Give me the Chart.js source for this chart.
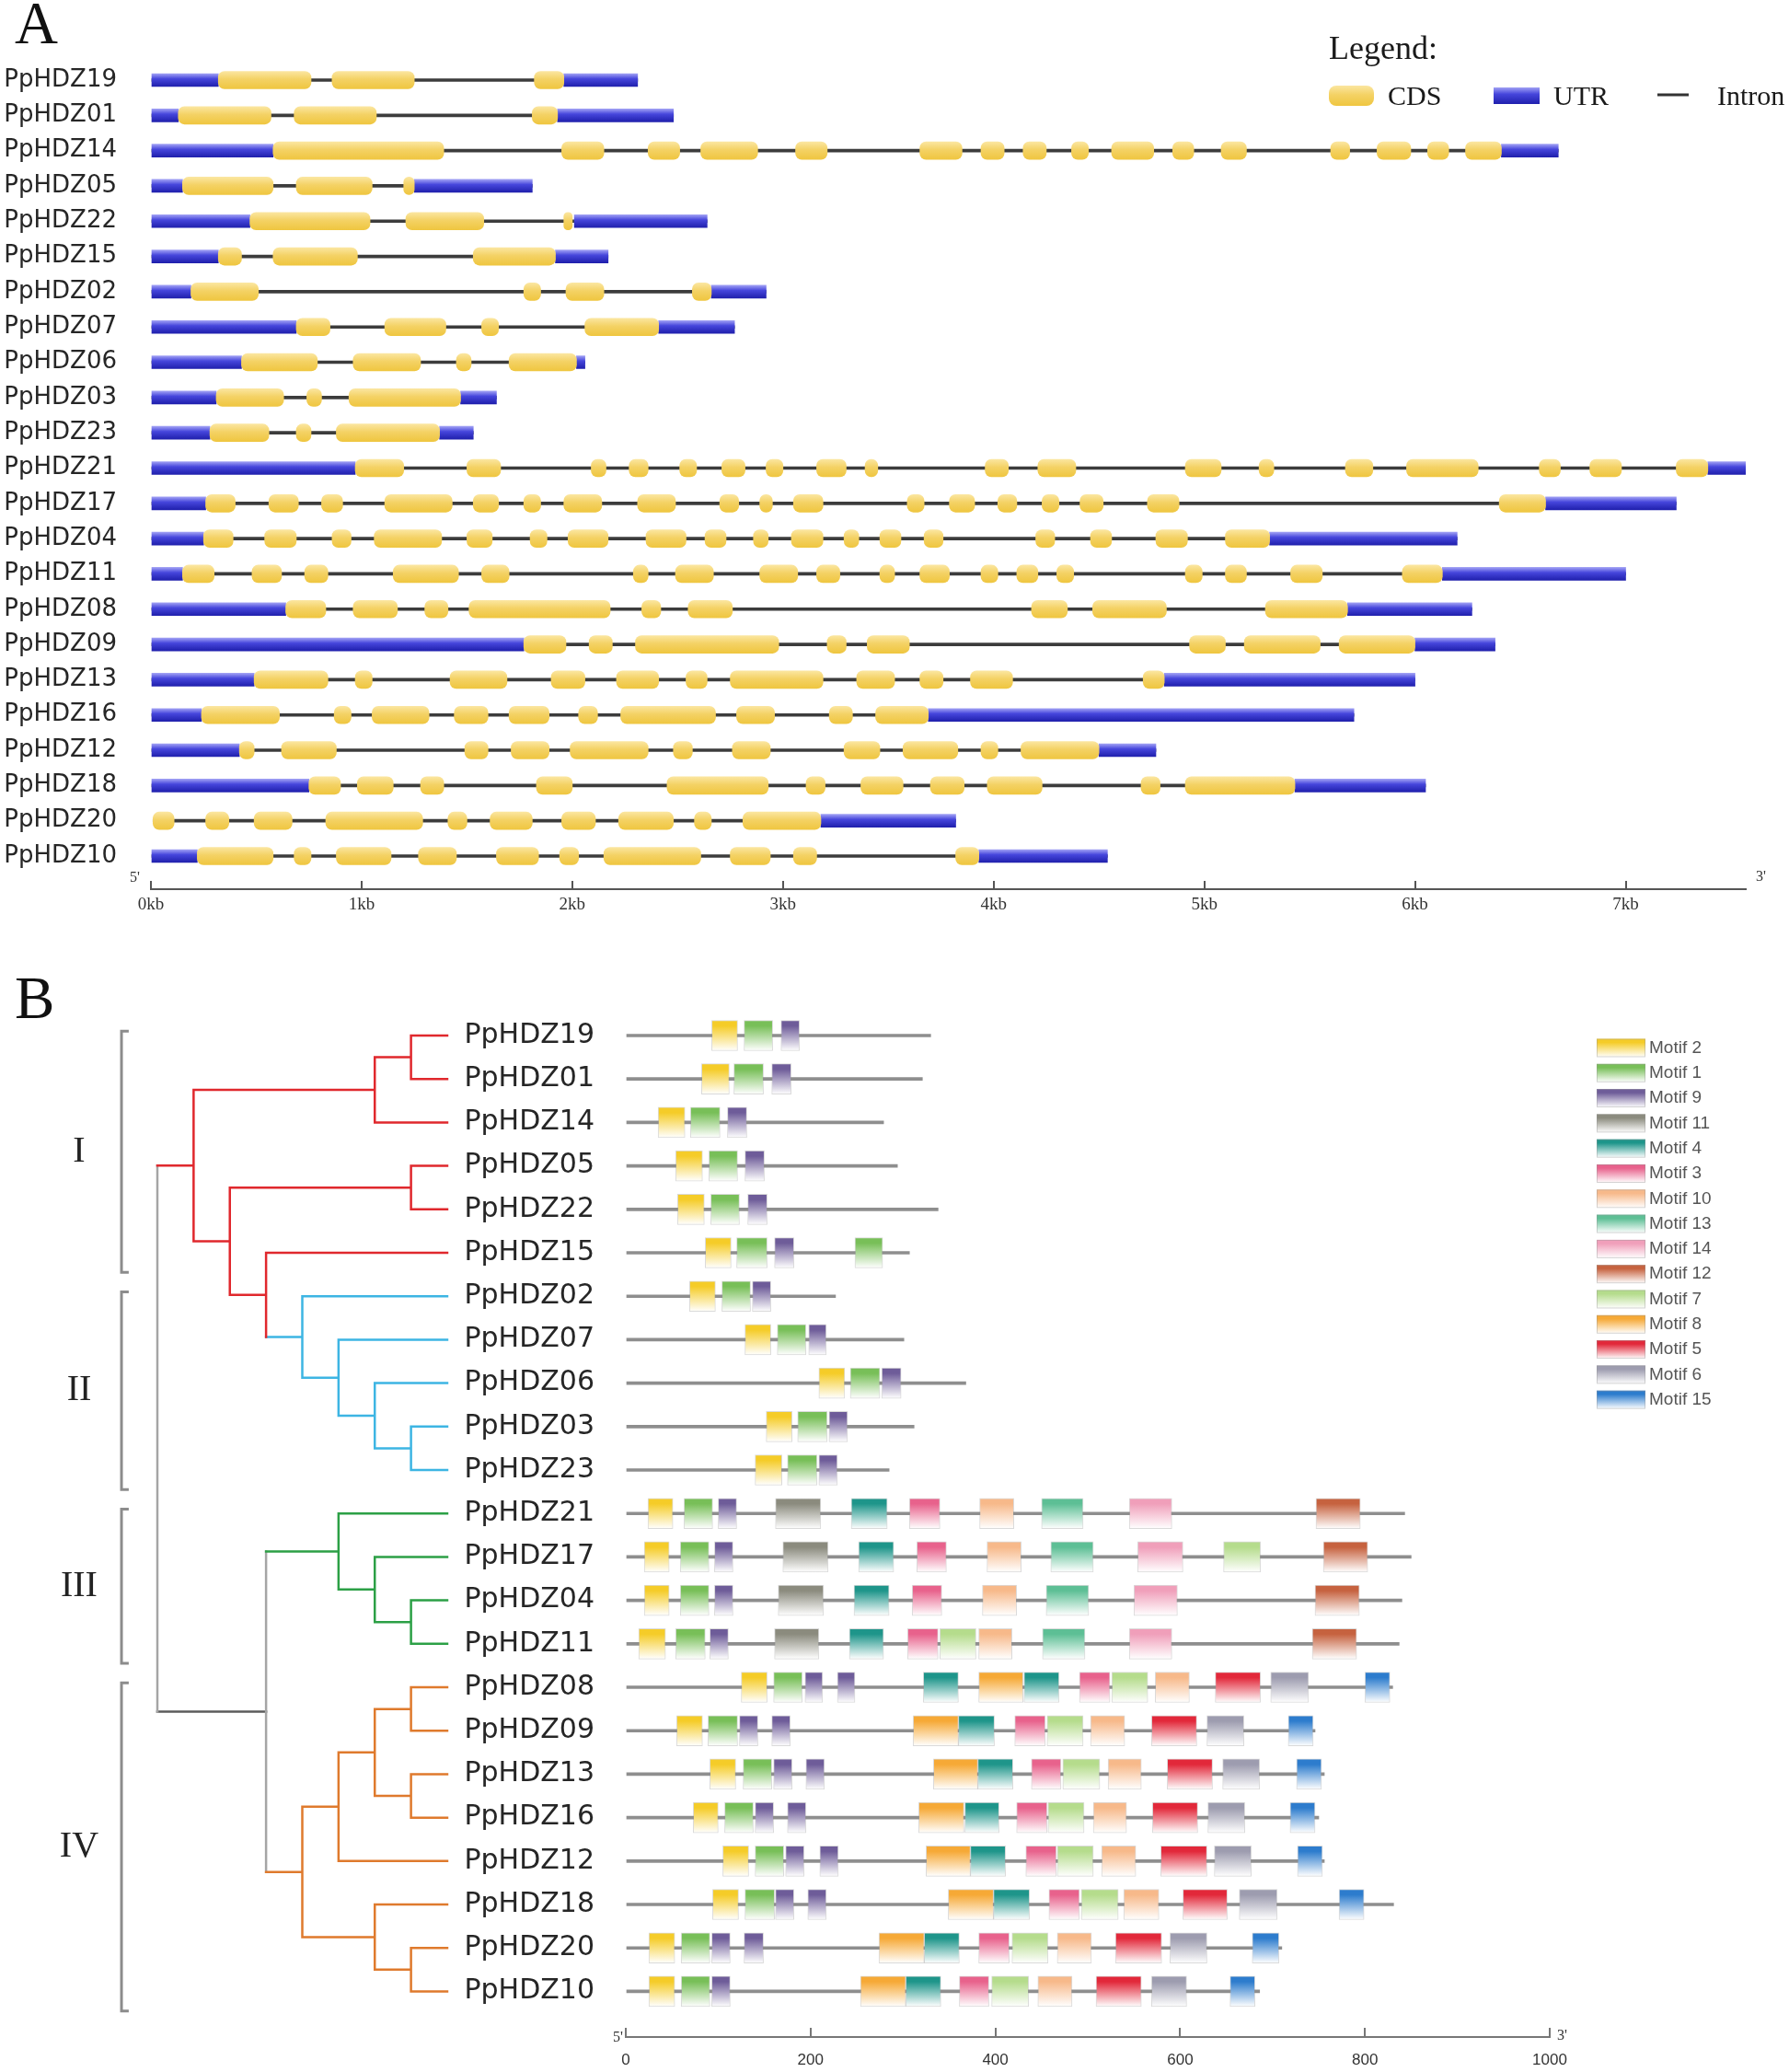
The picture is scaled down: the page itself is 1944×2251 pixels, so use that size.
<!DOCTYPE html>
<html>
<head>
<meta charset="utf-8">
<script src="https://cdn.jsdelivr.net/npm/chart.js@4.4.1/dist/chart.umd.min.js"></script>
<style>
  body { margin: 0; background: #fff; width: 1944px; height: 2251px; position: relative; overflow: hidden; }
  canvas { position: absolute; }
  .panel { position: absolute; font-family: "Liberation Serif", serif; font-size: 65px; line-height: 1; color: #111; }
</style>
</head>
<body>
<div class="panel" style="left:16px; top:-7px">A</div>
<div class="panel" style="left:16px; top:1052px">B</div>
<canvas id="genes" width="1944" height="1010" style="left:0; top:0"></canvas>
<canvas id="motifs" width="1944" height="1201" style="left:0; top:1050px"></canvas>
<canvas id="tree" width="500" height="1201" style="left:0; top:1050px"></canvas>
<script>
const geneNames = ["PpHDZ19", "PpHDZ01", "PpHDZ14", "PpHDZ05", "PpHDZ22", "PpHDZ15", "PpHDZ02", "PpHDZ07",
  "PpHDZ06", "PpHDZ03", "PpHDZ23", "PpHDZ21", "PpHDZ17", "PpHDZ04", "PpHDZ11", "PpHDZ08", "PpHDZ09",
  "PpHDZ13", "PpHDZ16", "PpHDZ12", "PpHDZ18", "PpHDZ20", "PpHDZ10"];

// gene structure, kb from 5' end
const utrKb = [
  [[0, 0.32], [1.96, 2.31]],
  [[0, 0.13], [1.93, 2.48]],
  [[0, 0.58], [6.41, 6.68]],
  [[0, 0.15], [1.25, 1.81]],
  [[0, 0.47], [2.01, 2.64]],
  [[0, 0.32], [1.92, 2.17]],
  [[0, 0.19], [2.66, 2.92]],
  [[0, 0.69], [2.41, 2.77]],
  [[0, 0.43], [2.02, 2.06]],
  [[0, 0.31], [1.47, 1.64]],
  [[0, 0.28], [1.37, 1.53]],
  [[0, 0.97], [7.39, 7.57]],
  [[0, 0.26], [6.62, 7.24]],
  [[0, 0.25], [5.31, 6.2]],
  [[0, 0.15], [6.13, 7.0]],
  [[0, 0.64], [5.68, 6.27]],
  [[0, 1.77], [6.0, 6.38]],
  [[0, 0.49], [4.81, 6.0]],
  [[0, 0.24], [3.69, 5.71]],
  [[0, 0.42], [4.5, 4.77]],
  [[0, 0.75], [5.43, 6.05]],
  [[3.18, 3.82]],
  [[0, 0.22], [3.93, 4.54]]
];

const cdsKb = [
  [[0.32, 0.76], [0.86, 1.25], [1.82, 1.96]],
  [[0.13, 0.57], [0.68, 1.07], [1.81, 1.93]],
  [[0.58, 1.39], [1.95, 2.15], [2.36, 2.51], [2.61, 2.88], [3.06, 3.21], [3.65, 3.85], [3.94, 4.05], [4.14, 4.25],
   [4.37, 4.45], [4.56, 4.76], [4.85, 4.95], [5.08, 5.2], [5.6, 5.69], [5.82, 5.98], [6.06, 6.16], [6.24, 6.41]],
  [[0.15, 0.58], [0.69, 1.05], [1.2, 1.25]],
  [[0.47, 1.04], [1.21, 1.58], [1.96, 2.0]],
  [[0.32, 0.43], [0.58, 0.98], [1.53, 1.92]],
  [[0.19, 0.51], [1.77, 1.85], [1.97, 2.15], [2.57, 2.66]],
  [[0.69, 0.85], [1.11, 1.4], [1.57, 1.65], [2.06, 2.41]],
  [[0.43, 0.79], [0.96, 1.28], [1.45, 1.52], [1.7, 2.02]],
  [[0.31, 0.63], [0.74, 0.81], [0.94, 1.47]],
  [[0.28, 0.56], [0.69, 0.76], [0.88, 1.37]],
  [[0.97, 1.2], [1.5, 1.66], [2.09, 2.16], [2.27, 2.36], [2.51, 2.59], [2.71, 2.82], [2.92, 3.0], [3.16, 3.3],
   [3.39, 3.45], [3.96, 4.07], [4.21, 4.39], [4.91, 5.08], [5.26, 5.33], [5.67, 5.8], [5.96, 6.3], [6.59, 6.69],
   [6.83, 6.98], [7.24, 7.39]],
  [[0.26, 0.4], [0.56, 0.7], [0.81, 0.91], [1.11, 1.43], [1.53, 1.65], [1.77, 1.85], [1.96, 2.14], [2.31, 2.49],
   [2.7, 2.79], [2.89, 2.95], [3.05, 3.19], [3.59, 3.67], [3.79, 3.91], [4.02, 4.11], [4.23, 4.31], [4.41, 4.52],
   [4.73, 4.88], [6.4, 6.62]],
  [[0.25, 0.39], [0.54, 0.69], [0.86, 0.95], [1.06, 1.38], [1.5, 1.62], [1.8, 1.88], [1.98, 2.17], [2.35, 2.54],
   [2.63, 2.73], [2.86, 2.93], [3.04, 3.19], [3.29, 3.36], [3.46, 3.56], [3.67, 3.76], [4.2, 4.29], [4.46, 4.56],
   [4.77, 4.92], [5.1, 5.31]],
  [[0.15, 0.3], [0.48, 0.62], [0.73, 0.84], [1.15, 1.46], [1.57, 1.7], [2.29, 2.36], [2.49, 2.67], [2.89, 3.07],
   [3.16, 3.27], [3.46, 3.53], [3.65, 3.79], [3.94, 4.02], [4.11, 4.21], [4.3, 4.38], [4.91, 4.99], [5.1, 5.2],
   [5.41, 5.56], [5.94, 6.13]],
  [[0.64, 0.83], [0.96, 1.17], [1.3, 1.41], [1.51, 2.18], [2.33, 2.42], [2.55, 2.76], [4.18, 4.35], [4.47, 4.82],
   [5.29, 5.68]],
  [[1.77, 1.97], [2.08, 2.19], [2.3, 2.98], [3.21, 3.3], [3.4, 3.6], [4.93, 5.1], [5.19, 5.55], [5.64, 6.0]],
  [[0.49, 0.84], [0.97, 1.05], [1.42, 1.69], [1.9, 2.06], [2.21, 2.41], [2.54, 2.64], [2.75, 3.19], [3.35, 3.53],
   [3.65, 3.76], [3.89, 4.09], [4.71, 4.81]],
  [[0.24, 0.61], [0.87, 0.95], [1.05, 1.32], [1.44, 1.6], [1.7, 1.89], [2.03, 2.12], [2.23, 2.68], [2.78, 2.96],
   [3.22, 3.33], [3.44, 3.69]],
  [[0.42, 0.49], [0.62, 0.88], [1.49, 1.6], [1.71, 1.89], [1.99, 2.36], [2.48, 2.57], [2.76, 2.94], [3.29, 3.46],
   [3.57, 3.83], [3.94, 4.02], [4.13, 4.5]],
  [[0.75, 0.9], [0.98, 1.15], [1.28, 1.39], [1.83, 2.0], [2.45, 2.93], [3.11, 3.2], [3.37, 3.57], [3.7, 3.86],
   [3.97, 4.23], [4.7, 4.79], [4.91, 5.43]],
  [[0.01, 0.11], [0.26, 0.37], [0.49, 0.67], [0.83, 1.29], [1.41, 1.5], [1.61, 1.81], [1.95, 2.11], [2.22, 2.48],
   [2.58, 2.66], [2.81, 3.18]],
  [[0.22, 0.58], [0.68, 0.76], [0.88, 1.14], [1.27, 1.45], [1.64, 1.84], [1.94, 2.03], [2.15, 2.61], [2.75, 2.94],
   [3.05, 3.16], [3.82, 3.93]]
];

const kbTicks = [0, 1, 2, 3, 4, 5, 6, 7];

// protein lengths (aa) and motif hits [motif, start, end]
const protLen = [330, 321, 279, 294, 338, 307, 227, 301, 368, 312, 285, 843, 850, 840, 837, 830, 746, 756, 750, 756, 831, 710, 686];

const motifHits = [
  [[2, 93, 121], [1, 128, 159], [9, 168, 188]],
  [[2, 82, 112], [1, 117, 149], [9, 158, 179]],
  [[2, 35, 64], [1, 70, 102], [9, 110, 131]],
  [[2, 54, 83], [1, 90, 121], [9, 129, 150]],
  [[2, 56, 85], [1, 92, 123], [9, 132, 153]],
  [[2, 86, 114], [1, 120, 153], [9, 161, 182], [1, 248, 278]],
  [[2, 69, 97], [1, 104, 135], [9, 137, 157]],
  [[2, 129, 157], [1, 164, 195], [9, 198, 217]],
  [[2, 209, 237], [1, 243, 275], [9, 277, 298]],
  [[2, 152, 180], [1, 186, 218], [9, 220, 240]],
  [[2, 140, 169], [1, 175, 207], [9, 209, 229]],
  [[2, 24, 51], [1, 63, 94], [9, 100, 120], [11, 162, 211], [4, 244, 283], [3, 307, 340], [10, 383, 420],
   [13, 450, 495], [14, 545, 591], [12, 747, 795]],
  [[2, 20, 47], [1, 59, 90], [9, 96, 116], [11, 170, 219], [4, 252, 290], [3, 315, 347], [10, 391, 428],
   [13, 460, 506], [14, 554, 603], [7, 647, 687], [12, 755, 803]],
  [[2, 20, 47], [1, 59, 90], [9, 96, 116], [11, 165, 214], [4, 247, 285], [3, 310, 342], [10, 386, 423],
   [13, 455, 501], [14, 550, 597], [12, 746, 794]],
  [[2, 14, 43], [1, 54, 86], [9, 91, 111], [11, 161, 209], [4, 242, 279], [3, 305, 338], [7, 340, 379],
   [10, 382, 418], [13, 451, 497], [14, 545, 591], [12, 743, 791]],
  [[2, 125, 153], [1, 160, 191], [9, 194, 213], [9, 229, 248], [4, 322, 360], [8, 382, 430], [4, 431, 469],
   [3, 491, 524], [7, 526, 565], [10, 573, 610], [5, 638, 687], [6, 698, 739], [15, 800, 827]],
  [[2, 55, 83], [1, 89, 121], [9, 123, 143], [9, 158, 178], [8, 311, 360], [4, 360, 399], [3, 421, 454],
   [7, 456, 495], [10, 503, 540], [5, 569, 618], [6, 629, 669], [15, 717, 744]],
  [[2, 91, 119], [1, 127, 158], [9, 160, 180], [9, 195, 215], [8, 333, 381], [4, 381, 419], [3, 439, 471],
   [7, 473, 513], [10, 522, 558], [5, 586, 635], [6, 646, 686], [15, 726, 753]],
  [[2, 73, 100], [1, 107, 138], [9, 140, 160], [9, 175, 195], [8, 317, 366], [4, 367, 404], [3, 423, 456],
   [7, 457, 496], [10, 506, 542], [5, 570, 619], [6, 630, 670], [15, 719, 746]],
  [[2, 105, 133], [1, 140, 171], [9, 173, 193], [9, 210, 230], [8, 325, 373], [4, 373, 411], [3, 433, 466],
   [7, 467, 506], [10, 515, 552], [5, 579, 629], [6, 637, 677], [15, 727, 754]],
  [[2, 94, 122], [1, 129, 161], [9, 162, 182], [9, 197, 217], [8, 349, 398], [4, 398, 437], [3, 458, 491],
   [7, 493, 533], [10, 539, 577], [5, 603, 651], [6, 664, 705], [15, 772, 799]],
  [[2, 25, 53], [1, 60, 91], [9, 93, 113], [9, 128, 149], [8, 274, 323], [4, 323, 361], [3, 382, 415],
   [7, 418, 457], [10, 467, 504], [5, 530, 580], [6, 589, 629], [15, 678, 707]],
  [[2, 25, 53], [1, 60, 91], [9, 93, 113], [8, 254, 303], [4, 303, 341], [3, 361, 393], [7, 396, 436],
   [10, 446, 483], [5, 509, 558], [6, 569, 607], [15, 654, 681]]
];

const motifOrder = [2, 1, 9, 11, 4, 3, 10, 13, 14, 12, 7, 8, 5, 6, 15];
const aaTicks = [0, 200, 400, 600, 800, 1000];

// tree: [depth, colour, children], leaves are gene names
const N = (d, c, ...kids) => [d, c, kids];
const treeTopology = N(0, "gray",
  N(1, "red",
    N(6, "red", N(7, "red", "PpHDZ19", "PpHDZ01"), "PpHDZ14"),
    N(2, "red",
      N(7, "red", "PpHDZ05", "PpHDZ22"),
      N(3, "red", "PpHDZ15",
        N(4, "blue", "PpHDZ02",
          N(5, "blue", "PpHDZ07",
            N(6, "blue", "PpHDZ06", N(7, "blue", "PpHDZ03", "PpHDZ23"))))))),
  N(3, "gray",
    N(5, "green", "PpHDZ21", N(6, "green", "PpHDZ17", N(7, "green", "PpHDZ04", "PpHDZ11"))),
    N(4, "orange",
      N(5, "orange", N(6, "orange", N(7, "orange", "PpHDZ08", "PpHDZ09"), N(7, "orange", "PpHDZ13", "PpHDZ16")), "PpHDZ12"),
      N(6, "orange", "PpHDZ18", N(7, "orange", "PpHDZ20", "PpHDZ10")))));
const leafDepth = 8;

const classNames = ["I", "II", "III", "IV"];
const classRows = [[0, 5], [6, 10], [11, 14], [15, 22]];

// STYLES

const motifColors = {
  2: "#f5cc28", 1: "#78bf58", 9: "#6e5c99", 11: "#8b8b7e", 4: "#1e958a", 3: "#e8628c", 10: "#f7b98a",
  13: "#5dbf95", 14: "#f09fba", 12: "#c6623f", 7: "#b5dc8c", 8: "#f6a936", 5: "#e2283a", 6: "#9d9caf", 15: "#2d7ccd"
};
const treeColors = {
  red: "#e0282d", blue: "#3db5e3", green: "#2ca046", orange: "#df7a2d", gray: "#a5a5a5", grayEdge: "#5c5c5c"
};
const cdsStops = [[0, "#fbe6a0"], [0.45, "#f4d265"], [1, "#efc640"]];
const utrStops = [[0, "#a0a0f4"], [0.4, "#4646dc"], [1, "#2020ad"]];

Chart.defaults.font.family = "Liberation Sans";
Chart.defaults.color = "#222";

function vGrad(ctx, stops, h) {
  const chart = ctx.chart;
  if (!chart.chartArea || !ctx.raw) return stops[1][1];
  const yc = chart.scales.y.getPixelForValue(ctx.raw.y);
  if (!isFinite(yc)) return stops[1][1];
  const g = chart.ctx.createLinearGradient(0, yc - h / 2, 0, yc + h / 2);
  stops.forEach((s) => g.addColorStop(s[0], s[1]));
  return g;
}

function rowTicks(scale) {
  scale.ticks = geneNames.map((_, i) => ({ value: i }));
}

// keep label overhang from shrinking the plot area
function fixedWidth(w) {
  return (scale) => {
    scale.width = w;
    scale.paddingTop = 0;
    scale.paddingBottom = 0;
  };
}
function fixedHeight(h) {
  return (scale) => {
    scale.height = h;
    scale.paddingLeft = 0;
    scale.paddingRight = 0;
  };
}

// PANEL A: GENE STRUCTURE

const intronData = geneNames.map((g, i) => {
  const segs = utrKb[i].concat(cdsKb[i]);
  return { y: i, x: [Math.min(...segs.map((s) => s[0])), Math.max(...segs.map((s) => s[1]))] };
});
const utrData = utrKb.flatMap((segs, i) => segs.map((s) => ({ y: i, x: s })));
const cdsData = cdsKb.flatMap((segs, i) => segs.map((s) => ({ y: i, x: s })));

const geneDecor = {
  id: "geneDecor",
  afterDraw(chart) {
    const c = chart.ctx;
    const area = chart.chartArea;
    c.save();
    c.fillStyle = "#1a1a1a";
    c.textBaseline = "alphabetic";
    c.font = '36px "Liberation Serif"';
    c.fillText("Legend:", 1444, 64);

    let g = c.createLinearGradient(0, 93, 0, 115);
    cdsStops.forEach((s) => g.addColorStop(s[0], s[1]));
    c.fillStyle = g;
    c.beginPath();
    c.roundRect(1444, 93, 49, 22, 8);
    c.fill();

    g = c.createLinearGradient(0, 95, 0, 113);
    utrStops.forEach((s) => g.addColorStop(s[0], s[1]));
    c.fillStyle = g;
    c.fillRect(1623, 95, 50, 18);

    c.strokeStyle = "#333";
    c.lineWidth = 3;
    c.beginPath();
    c.moveTo(1801, 103);
    c.lineTo(1835, 103);
    c.stroke();

    c.fillStyle = "#1a1a1a";
    c.font = '30px "Liberation Serif"';
    c.fillText("CDS", 1508, 114);
    c.fillText("UTR", 1688, 114);
    c.fillText("Intron", 1866, 114);

    c.font = '16px "Liberation Serif"';
    c.fillStyle = "#333";
    c.fillText("5'", area.left - 23, area.bottom - 8);
    c.fillText("3'", area.right + 11, area.bottom - 9);
    c.restore();
  }
};

const geneChart = new Chart(document.getElementById("genes"), {
  type: "bar",
  data: {
    datasets: [
      { label: "Intron", data: intronData, backgroundColor: "#3c3c3c", barThickness: 3, grouped: false, order: 3 },
      {
        label: "UTR", data: utrData, backgroundColor: (ctx) => vGrad(ctx, utrStops, 14),
        barThickness: 14, grouped: false, order: 2
      },
      {
        label: "CDS", data: cdsData, backgroundColor: (ctx) => vGrad(ctx, cdsStops, 19),
        barThickness: 19, borderRadius: 7, borderSkipped: false, grouped: false, order: 1
      }
    ]
  },
  options: {
    indexAxis: "y",
    responsive: false,
    animation: false,
    events: [],
    layout: { padding: { top: 67.84, bottom: 4, left: 0, right: 47 } },
    plugins: { legend: { display: false }, tooltip: { enabled: false } },
    scales: {
      x: {
        type: "linear", min: 0, max: 7.57,
        afterBuildTicks: (s) => { s.ticks = kbTicks.map((v) => ({ value: v })); },
        afterFit: fixedHeight(40),
        border: { display: true, color: "#555", width: 2 },
        grid: { drawOnChartArea: false, tickLength: -9, color: "#555", lineWidth: 2 },
        ticks: {
          padding: 15, color: "#333", maxRotation: 0,
          font: { family: "Liberation Serif", size: 19 },
          callback: (v) => v + "kb"
        }
      },
      y: {
        type: "linear", reverse: true, offset: false, min: -0.5, max: 22.94,
        afterBuildTicks: rowTicks,
        afterFit: fixedWidth(164),
        border: { display: false },
        grid: { display: false },
        ticks: {
          padding: 29, autoSkip: false, color: "#262626",
          font: { family: "DejaVu Sans", size: 26 },
          callback: (v) => geneNames[v]
        }
      }
    }
  },
  plugins: [geneDecor]
});

// PANEL B: MOTIFS

const lineData = protLen.map((len, i) => ({ y: i, x: [0, len] }));

function hitsFor(motif) {
  const data = [];
  motifHits.forEach((hits, i) => {
    hits.forEach((h) => {
      if (h[0] === motif) data.push({ y: i, x: [h[1], h[2]] });
    });
  });
  return data;
}

const motifDatasets = motifOrder.map((m) => {
  const col = motifColors[m];
  const stops = [[0, col], [0.18, col], [1, "#ffffff"]];
  return {
    label: "Motif " + m,
    data: hitsFor(m),
    backgroundColor: (ctx) => vGrad(ctx, stops, 33),
    borderColor: "rgba(150,150,150,0.35)",
    borderWidth: 1,
    borderSkipped: false,
    barThickness: 33,
    grouped: false,
    order: 1
  };
});

const motifDecor = {
  id: "motifDecor",
  afterDraw(chart) {
    const c = chart.ctx;
    const area = chart.chartArea;
    c.save();
    c.textBaseline = "middle";
    c.font = '19px "Liberation Sans"';
    motifOrder.forEach((m, k) => {
      const y = 88.5 + k * 27.3;
      const col = motifColors[m];
      const g = c.createLinearGradient(0, y - 10, 0, y + 10);
      g.addColorStop(0, col);
      g.addColorStop(0.2, col);
      g.addColorStop(1, "#ffffff");
      c.fillStyle = g;
      c.fillRect(1735, y - 10, 53, 20);
      c.strokeStyle = "rgba(150,150,150,0.4)";
      c.lineWidth = 1;
      c.strokeRect(1735.5, y - 9.5, 52, 19);
      c.fillStyle = "#555";
      c.fillText("Motif " + m, 1792, y);
    });
    c.textBaseline = "alphabetic";
    c.font = '16px "Liberation Serif"';
    c.fillStyle = "#333";
    c.fillText("5'", area.left - 14, area.bottom + 5);
    c.fillText("3'", area.right + 8, area.bottom + 3);
    c.restore();
  }
};

const motifChart = new Chart(document.getElementById("motifs"), {
  type: "bar",
  data: {
    datasets: [
      { label: "Protein", data: lineData, backgroundColor: "#8e8e8e", barThickness: 3, grouped: false, order: 20 },
      ...motifDatasets
    ]
  },
  options: {
    indexAxis: "y",
    responsive: false,
    animation: false,
    events: [],
    layout: { padding: { top: 51.4, bottom: 0, left: 0, right: 260 } },
    plugins: { legend: { display: false }, tooltip: { enabled: false } },
    scales: {
      x: {
        type: "linear", min: 0, max: 1000,
        afterBuildTicks: (s) => { s.ticks = aaTicks.map((v) => ({ value: v })); },
        afterFit: fixedHeight(38),
        border: { display: true, color: "#777", width: 2 },
        grid: { drawOnChartArea: false, tickLength: -10, color: "#777", lineWidth: 2 },
        ticks: {
          padding: 25, color: "#333", maxRotation: 0,
          font: { family: "Liberation Sans", size: 17 },
          callback: (v) => String(v)
        }
      },
      y: {
        type: "linear", reverse: true, offset: false, min: -0.5, max: 23.05,
        afterBuildTicks: rowTicks,
        afterFit: fixedWidth(680),
        border: { display: false },
        grid: { display: false },
        ticks: {
          padding: 26, autoSkip: false, color: "#262626",
          font: { family: "DejaVu Sans", size: 30 },
          callback: (v) => geneNames[v]
        }
      }
    }
  },
  plugins: [motifDecor]
});

// PANEL B: TREE

const treeSegs = {};

function addSeg(key, a, b) {
  if (!treeSegs[key]) treeSegs[key] = [];
  treeSegs[key].push({ x: a[0], y: a[1] }, { x: b[0], y: b[1] }, { x: NaN, y: NaN });
}

function walk(node, parentColor) {
  if (typeof node === "string") {
    return { x: leafDepth, y: geneNames.indexOf(node), color: parentColor };
  }
  const [depth, color, kids] = node;
  const pts = kids.map((k) => walk(k, color));
  const yTop = pts[0].y;
  const yBottom = pts[pts.length - 1].y;
  addSeg(color, [depth, yTop], [depth, yBottom]);
  pts.forEach((p) => {
    addSeg(p.color === "gray" ? "grayEdge" : p.color, [depth, p.y], [p.x, p.y]);
  });
  return { x: depth, y: (yTop + yBottom) / 2, color: color };
}
walk(treeTopology, "gray");

const bracketData = [];
classRows.forEach(([a, b]) => {
  bracketData.push(
    { x: -0.79, y: a - 0.1 }, { x: -0.99, y: a - 0.1 },
    { x: -0.99, y: b + 0.45 }, { x: -0.79, y: b + 0.45 },
    { x: NaN, y: NaN }
  );
});

const treeDatasets = Object.keys(treeSegs).map((key) => ({
  label: key,
  data: treeSegs[key],
  showLine: true,
  pointRadius: 0,
  borderWidth: 2.5,
  borderColor: treeColors[key],
  borderCapStyle: "square",
  clip: false
}));
treeDatasets.push({
  label: "brackets",
  data: bracketData,
  showLine: true,
  pointRadius: 0,
  borderWidth: 3,
  borderColor: "#8c8c8c",
  clip: false
});

const treeDecor = {
  id: "treeDecor",
  afterDraw(chart) {
    const c = chart.ctx;
    const xs = chart.scales.x;
    const ys = chart.scales.y;
    c.save();
    c.font = '40px "Liberation Serif"';
    c.fillStyle = "#222";
    c.textAlign = "center";
    c.textBaseline = "middle";
    classRows.forEach(([a, b], k) => {
      const mid = (a - 0.1 + b + 0.45) / 2;
      c.fillText(classNames[k], xs.getPixelForValue(-2.16), ys.getPixelForValue(mid));
    });
    c.restore();
  }
};

const treeChart = new Chart(document.getElementById("tree"), {
  type: "scatter",
  data: { datasets: treeDatasets },
  options: {
    responsive: false,
    animation: false,
    events: [],
    layout: { padding: { top: 51.4, bottom: 38, left: 0, right: 0 } },
    plugins: { legend: { display: false }, tooltip: { enabled: false } },
    scales: {
      x: { type: "linear", min: -4.343, max: 8.356, display: false },
      y: { type: "linear", reverse: true, min: -0.5, max: 23.05, display: false }
    }
  },
  plugins: [treeDecor]
});
</script>
</body>
</html>
